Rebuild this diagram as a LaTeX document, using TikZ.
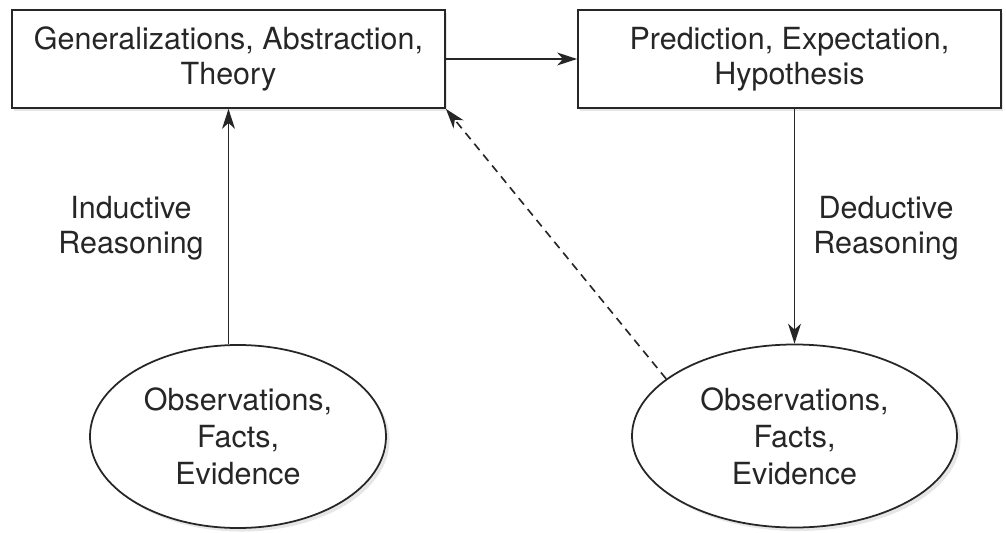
\documentclass[tikz,border=0pt]{standalone}
\usepackage{fontspec}
\setmainfont{TeX Gyre Heros}
\usetikzlibrary{positioning, arrows.meta, shapes, shadows}

\begin{document}
\begin{tikzpicture}[x=0.03cm, y=-0.03cm,
    every node/.style={font=\fontsize{26}{29.5}\selectfont, text=black!85, align=center},
    box/.style={draw=black!85, line width=1.5pt, fill=white, inner sep=0pt,
        minimum height=2.94cm,
        drop shadow={opacity=0.2, shadow xshift=2pt, shadow yshift=-2.5pt}},
    obs/.style={ellipse, draw=black!85, line width=1.5pt, fill=white, inner sep=0pt,
        minimum height=5.49cm, font=\fontsize{26}{31.5}\selectfont,
        drop shadow={opacity=0.2, shadow xshift=3pt, shadow yshift=-3pt}},
    arr/.style={draw=black!85, line width=1.4pt, -{Stealth[length=17pt, width=11pt, inset=5pt]}}]
    \useasboundingbox (0,0) rectangle (1006,533);

    % Boxes
    \node[box, minimum width=12.99cm] (gen) at (228.5,59) {Generalizations, Abstraction,\\Theory};
    \node[box, minimum width=12.69cm] (pred) at (789.5,59) {Prediction, Expectation,\\Hypothesis};

    % Ellipses
    \node[obs, minimum width=8.88cm] (obsL) at (238,436.5) {Observations,\\Facts,\\Evidence};
    \node[obs, minimum width=9.75cm] (obsR) at (794.5,436) {Observations,\\Facts,\\Evidence};

    % Labels
    \node (ind) at (131,228) {Inductive\\Reasoning};
    \node (ded) at (886,228) {Deductive\\Reasoning};

    % Arrows
    \draw[arr] (gen.east) -- (pred.west);
    \draw[arr] (gen.south |- obsL.north) -- (gen.south);
    \draw[arr] (pred.south -| obsR.north) -- (obsR.north);
    \draw[arr, dash pattern=on 7pt off 5pt] (obsR.156) -- (gen.south east);
\end{tikzpicture}
\end{document}
